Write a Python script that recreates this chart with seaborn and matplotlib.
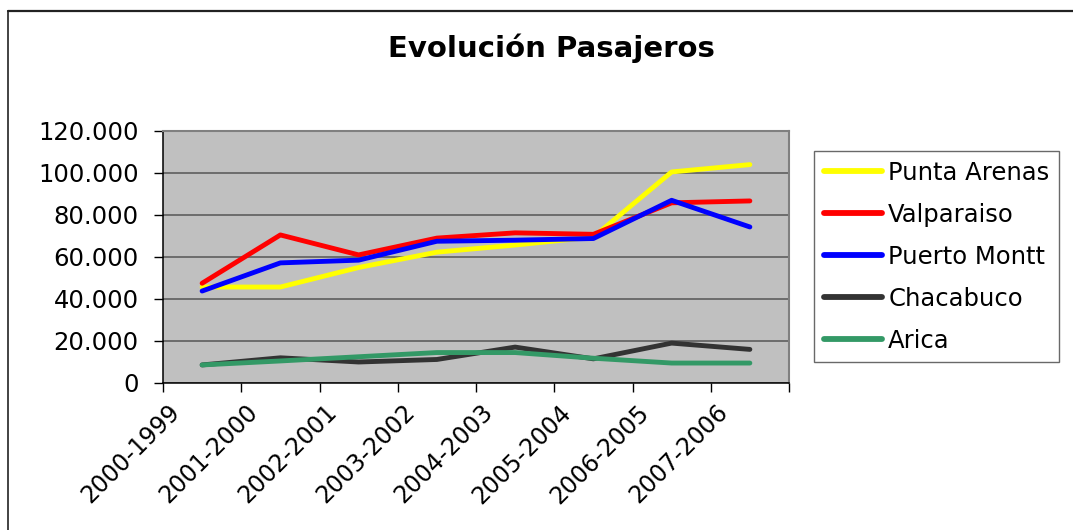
import matplotlib
matplotlib.use("Agg")
import matplotlib.pyplot as plt
import matplotlib.transforms as mtransforms
from matplotlib.lines import Line2D
from matplotlib.ticker import FuncFormatter, FixedLocator
import pandas as pd
import seaborn as sns

# ----------------------------------------------------------
# Data
# ----------------------------------------------------------

periodos = ["2000-1999", "2001-2000", "2002-2001", "2003-2002",
            "2004-2003", "2005-2004", "2006-2005", "2007-2006"]

punta_arenas = [45700, 45700, 55000, 62300, 65700, 69500, 100500, 104000]
valparaiso = [47500, 70500, 61000, 69000, 71500, 70800, 85800, 86700]
puerto_montt = [43800, 57200, 58500, 67500, 68000, 68800, 87000, 74300]
chacabuco = [8600, 12000, 10000, 11200, 17100, 11500, 19000, 16000]
arica = [8600, 10500, 12500, 14500, 14500, 11800, 9500, 9500]

series = {
    "Punta Arenas": punta_arenas,
    "Valparaiso": valparaiso,
    "Puerto Montt": puerto_montt,
    "Chacabuco": chacabuco,
    "Arica": arica,
}
colores = ["#FFFF00", "#FF0000", "#0000FF", "#333333", "#339966"]

rows = []
for puerto, valores in series.items():
    for i, v in enumerate(valores):
        rows.append({"pos": i, "periodo": periodos[i], "puerto": puerto, "pasajeros": v})
df = pd.DataFrame(rows)

# ----------------------------------------------------------
# Figure
# ----------------------------------------------------------

sns.set_style("white", rc={"xtick.bottom": True, "ytick.left": True,
                           "text.color": "black", "xtick.color": "black",
                           "ytick.color": "black"})
plt.rcParams["font.family"] = ["DejaVu Sans"]

fig = plt.figure(figsize=(10.73, 5.30), dpi=100)
ax = fig.add_axes([163 / 1073, 1 - 383 / 530, (789 - 163) / 1073, (383 - 131) / 530])
ax.set_facecolor("#C0C0C0")

sns.lineplot(data=df, x="pos", y="pasajeros", hue="puerto",
             hue_order=list(series.keys()), palette=colores,
             linewidth=3.5, sort=False, ax=ax, legend=False,
             solid_capstyle="round")

ax.set_xlim(-0.5, len(periodos) - 0.5)
ax.set_ylim(0, 120000)
ax.set_yticks(range(0, 120001, 20000))
ax.yaxis.set_major_formatter(FuncFormatter(lambda v, p: f"{v:,.0f}".replace(",", ".")))
ax.grid(axis="y", color="#555555", linewidth=1.1)
ax.set_axisbelow(True)

# category boundaries as ticks, labels on the category centres
ax.xaxis.set_major_locator(FixedLocator([i - 0.5 for i in range(len(periodos) + 1)]))
ax.xaxis.set_major_formatter(FuncFormatter(lambda v, p: ""))
ax.xaxis.set_minor_locator(FixedLocator(range(len(periodos))))
ax.set_xticklabels(periodos, minor=True)
ax.tick_params(axis="x", which="major", bottom=True, direction="out", length=6.5,
               width=1.0, color="black")
ax.tick_params(axis="x", which="minor", length=0, labelsize=17, pad=4, labelcolor="black")
ax.tick_params(axis="y", left=True, direction="out", length=6.5, width=1.0, color="black",
               labelsize=17.5, pad=11, labelcolor="black")
for lab in ax.get_xticklabels(minor=True):
    lab.set_rotation(45)
    lab.set_rotation_mode("anchor")
    lab.set_ha("right")
    lab.set_va("center")
    lab.set_transform(lab.get_transform() + mtransforms.ScaledTranslation(-0.26, -0.2, fig.dpi_scale_trans))

ax.set_xlabel("")
ax.set_ylabel("")

for side in ["left", "bottom"]:
    ax.spines[side].set_color("black")
    ax.spines[side].set_linewidth(1.1)
for side in ["top", "right"]:
    ax.spines[side].set_color("#808080")
    ax.spines[side].set_linewidth(1.5)

fig.suptitle("Evolución Pasajeros", x=551 / 1073, y=1 - 48 / 530, va="center",
             fontsize=21, fontweight="bold", color="black")

# legend
handles = [Line2D([0], [0], color=c, linewidth=4.2, solid_capstyle="round") for c in colores]
leg = fig.legend(handles, list(series.keys()), loc="upper left",
                 bbox_to_anchor=(814 / 1073, 1 - 151 / 530),
                 fontsize=17.5, frameon=True, fancybox=False, edgecolor="#444444",
                 handlelength=2.4, handletextpad=0.25, labelspacing=0.74,
                 borderpad=0.4, borderaxespad=0)
leg.get_frame().set_linewidth(1.0)
for t in leg.get_texts():
    t.set_color("black")

# chart border (left and top visible)
fig.add_artist(Line2D([7.5 / 1073, 7.5 / 1073], [0, 1 - 10.5 / 530], color="#222222",
                      linewidth=1.2, transform=fig.transFigure))
fig.add_artist(Line2D([7.5 / 1073, 1], [1 - 10.5 / 530, 1 - 10.5 / 530], color="#222222",
                      linewidth=1.6, transform=fig.transFigure))

fig.savefig("out.png", dpi=100, facecolor="white")
plt.close(fig)
